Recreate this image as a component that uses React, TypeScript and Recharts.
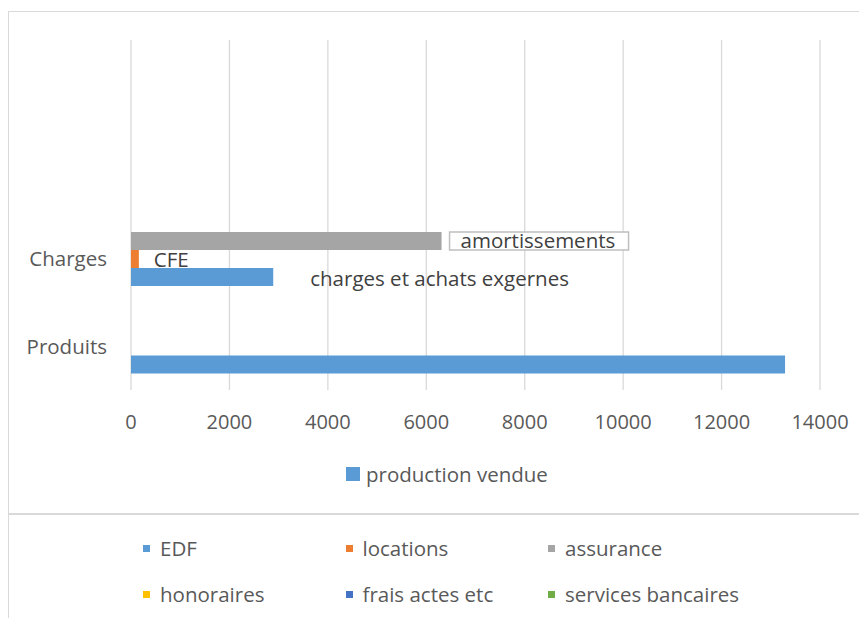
import { BarChart, Bar, XAxis, YAxis, CartesianGrid, Legend, LabelList } from "recharts";

const categories = ["", "", "Charges", "Produits"];
const productionValues = [null, null, 2890, 13290];
const cfeValues = [null, null, 160, null];
const amortValues = [null, null, 6310, null];
const productionLabels = [null, null, "charges et achats exgernes", null];
const cfeLabels = [null, null, "CFE", null];
const amortLabels = [null, null, "amortissements", null];
const xTicks = [0, 2000, 4000, 6000, 8000, 10000, 12000, 14000];

const otherLegend = [
  { name: "EDF", color: "#5b9bd5" },
  { name: "locations", color: "#ed7d31" },
  { name: "assurance", color: "#a5a5a5" },
  { name: "honoraires", color: "#ffc000" },
  { name: "frais actes etc", color: "#4472c4" },
  { name: "services bancaires", color: "#70ad47" },
];

const data = categories.map((name, i) => ({
  name,
  production: productionValues[i],
  cfe: cfeValues[i],
  amort: amortValues[i],
  productionLabel: productionLabels[i],
  cfeLabel: cfeLabels[i],
  amortLabel: amortLabels[i],
}));

const font = "'Open Sans', sans-serif";
const labelColor = "#404040";
const tickColor = "#595959";

// custom data label, drawn to the right of the bar end
const makeLabel = (dx: number, dy: number, boxed = false) =>
  (props: any) => {
    const { x, y, width, value } = props;
    if (!value) return null;
    const end = Number(x) + Number(width);
    return (
      <g>
        {boxed && (
          <rect x={end + 8} y={Number(y)} width={179} height={18} fill="#fff" stroke="#bfbfbf" strokeWidth={1.5} />
        )}
        <text x={end + dx} y={Number(y) + dy} fill={labelColor} fontSize={20.5} fontFamily={font}>
          {value}
        </text>
      </g>
    );
  };

const renderLegend = () => (
  <div style={{ display: "flex", alignItems: "center", height: 24, fontFamily: font, fontSize: 20.5, color: tickColor }}>
    <span style={{ width: 14, height: 14, background: "#5b9bd5", marginRight: 6, display: "inline-block" }} />
    production vendue
  </div>
);

export default function App() {
  return (
    <div style={{ width: 859, height: 610, overflow: "hidden", position: "relative" }}>
      <div
        style={{
          position: "absolute",
          top: 3,
          left: 0,
          width: 900,
          height: 502,
          borderTop: "1px solid #d9d9d9",
          borderLeft: "1px solid #d9d9d9",
          boxSizing: "border-box",
          background: "#fff",
        }}
      >
        <BarChart
          width={890}
          height={500}
          data={data}
          layout="vertical"
          barSize={18}
          barGap={0}
          margin={{ top: 28, right: 79, left: 0, bottom: 26 }}
        >
          <CartesianGrid horizontal={false} stroke="#d9d9d9" strokeWidth={1.3} />
          <XAxis
            type="number"
            domain={[0, 14000]}
            ticks={xTicks}
            axisLine={false}
            tickLine={false}
            tickSize={0}
            tickMargin={25}
            height={72}
            tick={{ fill: tickColor, fontSize: 20, fontFamily: font }}
          />
          <YAxis
            type="category"
            dataKey="name"
            width={122}
            axisLine={false}
            tickLine={false}
            tickSize={0}
            tickMargin={24}
            tick={{ fill: tickColor, fontSize: 20.5, fontFamily: font }}
          />
          <Legend
            verticalAlign="bottom"
            content={renderLegend}
            wrapperStyle={{ left: 337, width: "auto", height: 24 }}
          />
          <Bar dataKey="amort" name="amortissements" fill="#a5a5a5" legendType="none" isAnimationActive={false}>
            <LabelList dataKey="amortLabel" content={makeLabel(19, 16, true)} />
          </Bar>
          <Bar dataKey="cfe" name="CFE" fill="#ed7d31" legendType="none" isAnimationActive={false}>
            <LabelList dataKey="cfeLabel" content={makeLabel(15, 17)} />
          </Bar>
          <Bar dataKey="production" name="production vendue" fill="#5b9bd5" isAnimationActive={false}>
            <LabelList dataKey="productionLabel" content={makeLabel(37, 18)} />
          </Bar>
        </BarChart>
      </div>
      <div
        style={{
          position: "absolute",
          top: 505,
          left: 0,
          width: 855,
          height: 200,
          border: "1px solid #d9d9d9",
          borderTopWidth: 2,
          boxSizing: "border-box",
          background: "#fff",
          fontFamily: font,
          fontSize: 20.5,
          color: tickColor,
        }}
      >
        {otherLegend.map((item, i) => (
          <div
            key={item.name}
            style={{
              position: "absolute",
              left: 134 + (i % 3) * 202.5,
              top: 20 + Math.floor(i / 3) * 46,
              height: 26,
              display: "flex",
              alignItems: "center",
              whiteSpace: "nowrap",
            }}
          >
            <span style={{ width: 7, height: 7, background: item.color, marginRight: 10, display: "inline-block" }} />
            {item.name}
          </div>
        ))}
      </div>
    </div>
  );
}
